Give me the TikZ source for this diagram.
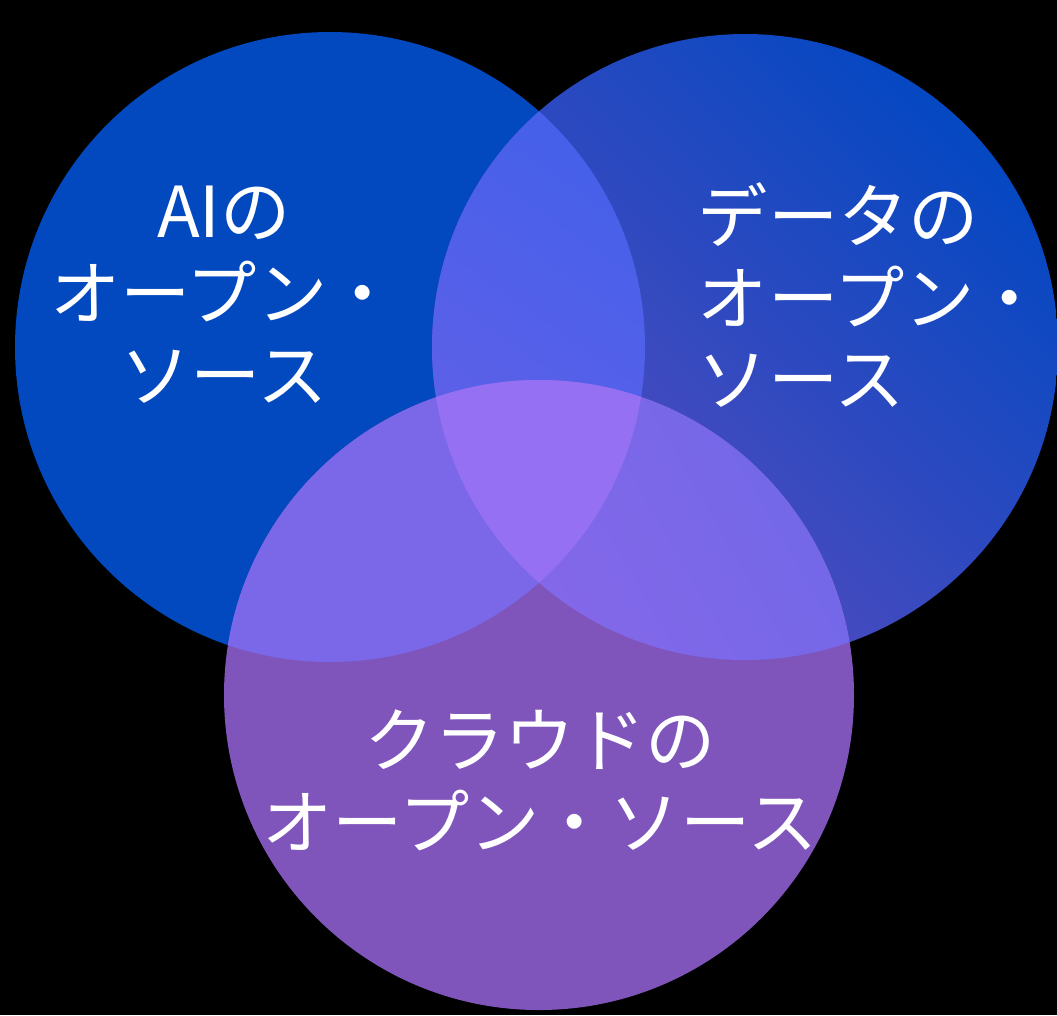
\documentclass[tikz,border=0pt]{standalone}
\usepackage{fontspec}
\setmainfont{Noto Sans CJK JP}
\usetikzlibrary{positioning}

\definecolor{aiblue}{HTML}{0248BF}
\definecolor{datablue}{HTML}{0448C2}
\definecolor{datapurple}{HTML}{5E4BBD}
\definecolor{cloudpurple}{HTML}{7F55BC}
\definecolor{capA}{HTML}{3260EA}
\definecolor{capB}{HTML}{6460E8}
\definecolor{lowlens}{HTML}{7A68E9}
\definecolor{rlensA}{HTML}{7468E8}
\definecolor{rlensB}{HTML}{9A68EA}
\definecolor{core}{HTML}{9670F2}

\def\circAI{(3.30,-3.47) circle (3.15)}
\def\circData{(7.45,-3.47) circle (3.13)}
\def\circCloud{(5.39,-6.95) circle (3.15)}

\tikzset{
  label/.style={text=white, font=\fontsize{20}{23.3}\selectfont, inner sep=0pt},
}

\begin{document}
\begin{tikzpicture}
  % background
  \fill[black] (0,0) rectangle (10.57,-10.15);
  \useasboundingbox (0,0) rectangle (10.57,-10.15);

  % the three sets
  \fill[aiblue] \circAI;
  \shade[top color=datablue, bottom color=datapurple, shading angle=-45] \circData;
  \fill[cloudpurple] \circCloud;

  % overlaps
  \begin{scope}
    \clip \circAI;
    \shade[top color=capA, bottom color=capB, shading angle=-35] \circData;
  \end{scope}
  \begin{scope}
    \clip \circAI;
    \fill[lowlens] \circCloud;
  \end{scope}
  \begin{scope}
    \clip \circData;
    \shade[top color=rlensA, bottom color=rlensB, shading angle=-60] \circCloud;
  \end{scope}
  \begin{scope}
    \clip \circAI;
    \clip \circData;
    \fill[core] \circCloud;
  \end{scope}

  % labels
  \node[label, align=center] (ai) at (2.24,-2.95) {AIの\\オープン・\\ソース};
  \node[label, align=left, anchor=west] (data) at (6.97,-2.95) {データの\\オープン・\\ソース};
  \node[label, align=center] (cloud) at (5.40,-7.80) {クラウドの\\オープン・ソース};
\end{tikzpicture}
\end{document}
